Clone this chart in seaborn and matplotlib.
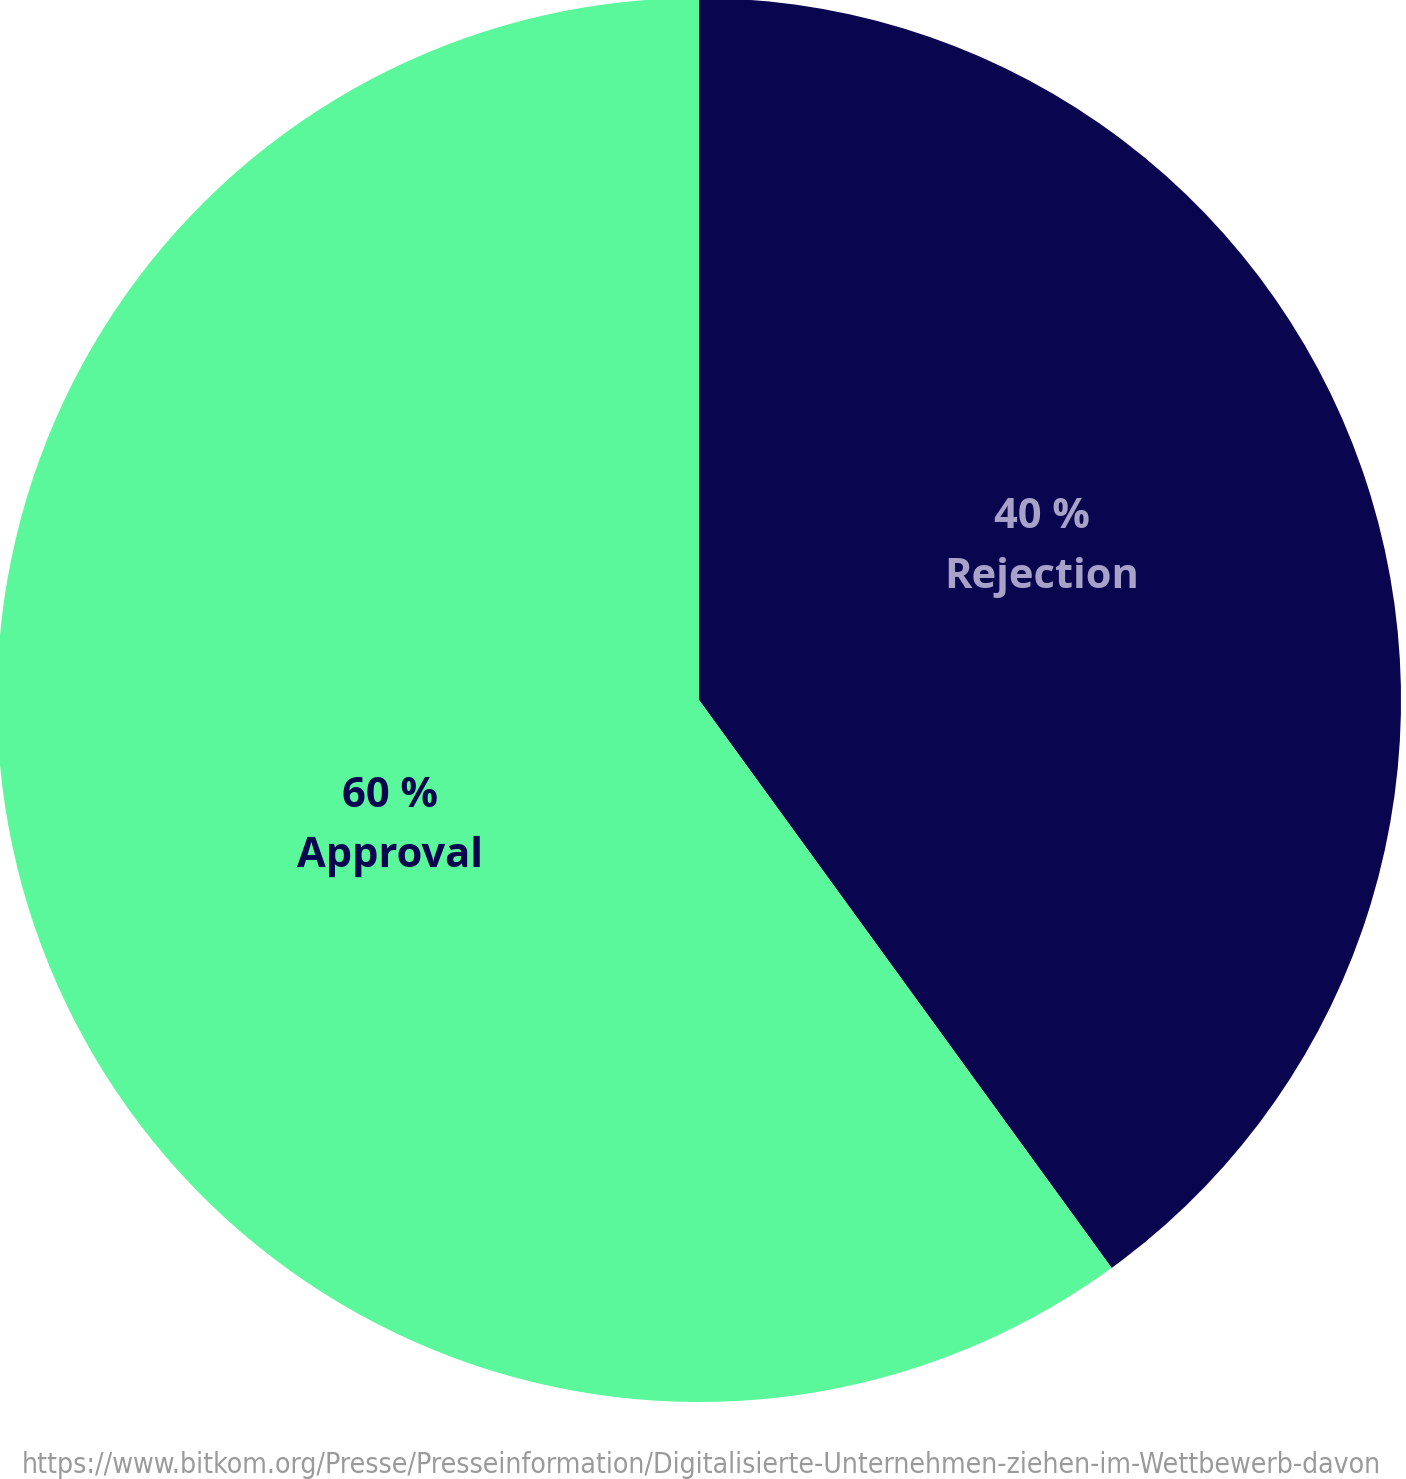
import numpy as np
import matplotlib
matplotlib.use("Agg")
import matplotlib.pyplot as plt
import seaborn as sns

sns.set_style("white")
plt.rcParams['font.family'] = ['Open Sans', 'DejaVu Sans']

# ---------- data ----------
categories = ['Rejection', 'Approval']
shares = [40, 60]
slice_colors = ['#09054F', '#5BF79B']
label_colors = ['#A7A3C8', '#09054F']
source_url = ("https://www.bitkom.org/Presse/Presseinformation/"
              "Digitalisierte-Unternehmen-ziehen-im-Wettbewerb-davon")

# ---------- figure ----------
W, H, DPI = 1406, 1479, 100
fig = plt.figure(figsize=(W / DPI, H / DPI), dpi=DPI)
ax = fig.add_axes([-3 / W, (H - 1402) / H, 1404 / W, 1404 / H])

ax.pie(shares, colors=slice_colors, startangle=90, counterclock=False,
       radius=1.0, wedgeprops=dict(linewidth=0))
ax.set_xlim(-1, 1)
ax.set_ylim(-1, 1)
ax.set_aspect('equal')
ax.axis('off')

# label placement (angle in degrees from +x, distance as fraction of radius)
label_pos = [(24, 0.535), (-157.7, 0.475)]
for cat, val, col, (ang, dist) in zip(categories, shares, label_colors, label_pos):
    a = np.deg2rad(ang)
    ax.text(dist * np.cos(a), dist * np.sin(a), f"{val} %\n{cat}",
            ha='center', va='center', color=col, fontsize=30,
            fontweight='bold', linespacing=1.62)

# source line, fitted to its width in the reference
src = fig.text(22 / W, 1 - 1473 / H, source_url, ha='left', va='baseline',
               color='#9A9A9A', fontsize=16, fontstretch='condensed',
               family=['DejaVu Sans'])
fig.canvas.draw()
ext = src.get_window_extent()
src.set_fontsize(16 * 1362 / ext.width)
fig.canvas.draw()
ext = src.get_window_extent()
src.set_fontsize(src.get_fontsize() * 1362 / ext.width)

fig.savefig('out.png', dpi=DPI)
